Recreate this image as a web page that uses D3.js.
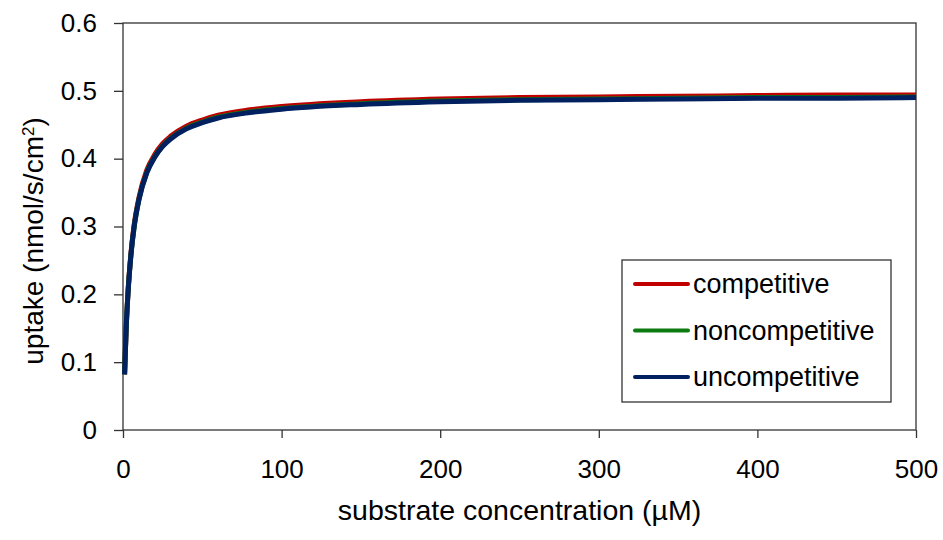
<!DOCTYPE html>
<html>
<head>
<meta charset="utf-8">
<script src="https://cdn.jsdelivr.net/npm/d3@7"></script>
<style>
  html, body { margin: 0; padding: 0; background: #fff; }
  svg { display: block; font-family: "Liberation Sans", Arial, sans-serif; }
</style>
</head>
<body>
<div id="chart"></div>
<script>
// --- data ---
const concentration = [1, 2, 3, 5, 7, 10, 15, 20, 25, 30, 40, 50, 60, 80, 100, 150, 200, 250, 300, 350, 400, 450, 500];
const competitive    = [0.082, 0.150, 0.197, 0.260, 0.302, 0.342, 0.383, 0.406, 0.422, 0.433, 0.448, 0.457, 0.464, 0.472, 0.477, 0.484, 0.488, 0.490, 0.491, 0.492, 0.493, 0.494, 0.494];
const noncompetitive = [0.082, 0.150, 0.196, 0.258, 0.299, 0.339, 0.380, 0.403, 0.419, 0.430, 0.445, 0.454, 0.461, 0.469, 0.474, 0.481, 0.485, 0.487, 0.488, 0.489, 0.490, 0.490, 0.491];
const uncompetitive  = [0.082, 0.150, 0.196, 0.258, 0.299, 0.339, 0.379, 0.402, 0.418, 0.429, 0.444, 0.453, 0.460, 0.468, 0.473, 0.480, 0.484, 0.486, 0.487, 0.488, 0.489, 0.489, 0.490];
const seriesNames = ["competitive", "noncompetitive", "uncompetitive"];
const seriesColors = ["#c00000", "#0e7a12", "#002060"];
const xTicks = [0, 100, 200, 300, 400, 500];
const yTicks = [0, 0.1, 0.2, 0.3, 0.4, 0.5, 0.6];

const width = 943, height = 540;
const margin = { top: 23, right: 27, bottom: 110, left: 123 };
const plotW = width - margin.left - margin.right;
const plotH = height - margin.top - margin.bottom;

const svg = d3.select("#chart").append("svg")
    .attr("width", width)
    .attr("height", height);

const g = svg.append("g").attr("transform", `translate(${margin.left},${margin.top})`);

const x = d3.scaleLinear().domain([0, 500]).range([0, plotW]);
const y = d3.scaleLinear().domain([0, 0.6]).range([plotH, 0]);

// axes
const xAxis = d3.axisBottom(x).tickValues(xTicks).tickSize(8).tickSizeOuter(0).tickPadding(22).tickFormat(d3.format("d"));
const yAxis = d3.axisLeft(y).tickValues(yTicks).tickSize(9).tickSizeOuter(0).tickPadding(17).tickFormat(d => d === 0 ? "0" : d3.format(".1f")(d));

const gx = g.append("g").attr("transform", `translate(0,${plotH})`).call(xAxis);
const gy = g.append("g").call(yAxis);
[gx, gy].forEach(a => {
    a.select(".domain").remove();
    a.selectAll(".tick line").attr("stroke", "#333").attr("stroke-width", 1.3);
    a.selectAll(".tick text").attr("fill", "#000").style("font-size", "26px");
});

// frame
g.append("rect")
    .attr("x", 0).attr("y", 0)
    .attr("width", plotW).attr("height", plotH)
    .attr("fill", "none")
    .attr("stroke", "#333")
    .attr("stroke-width", 1.3);

// lines
const allSeries = [competitive, noncompetitive, uncompetitive];
const line = d3.line()
    .x((d, i) => x(concentration[i]))
    .y(d => y(d))
    .curve(d3.curveMonotoneX);

allSeries.forEach((vals, k) => {
    g.append("path")
        .datum(vals)
        .attr("fill", "none")
        .attr("stroke", seriesColors[k])
        .attr("stroke-width", 5)
        .attr("stroke-linejoin", "round")
        .attr("d", line);
});

// legend
const legend = svg.append("g").attr("transform", "translate(622,260)");
legend.append("rect")
    .attr("width", 269).attr("height", 142)
    .attr("fill", "#fff")
    .attr("stroke", "#333")
    .attr("stroke-width", 1.3);
seriesNames.forEach((name, k) => {
    const ly = 24 + k * 46.5;
    legend.append("line")
        .attr("x1", 13).attr("x2", 66)
        .attr("y1", ly).attr("y2", ly)
        .attr("stroke", seriesColors[k])
        .attr("stroke-width", 4)
        .attr("stroke-linecap", "round");
    legend.append("text")
        .attr("x", 71).attr("y", ly)
        .attr("dy", "0.35em")
        .style("font-size", "27px")
        .text(name);
});

// axis titles
svg.append("text")
    .attr("x", margin.left + plotW / 2)
    .attr("y", 520)
    .attr("text-anchor", "middle")
    .style("font-size", "28.5px")
    .text("substrate concentration (µM)");

const yLabel = svg.append("text")
    .attr("transform", "translate(43,241) rotate(-90)")
    .attr("text-anchor", "middle")
    .style("font-size", "28px");
yLabel.append("tspan").text("uptake (nmol/s/cm");
yLabel.append("tspan").attr("baseline-shift", "super").style("font-size", "17px").text("2");
yLabel.append("tspan").text(")");
</script>
</body>
</html>
